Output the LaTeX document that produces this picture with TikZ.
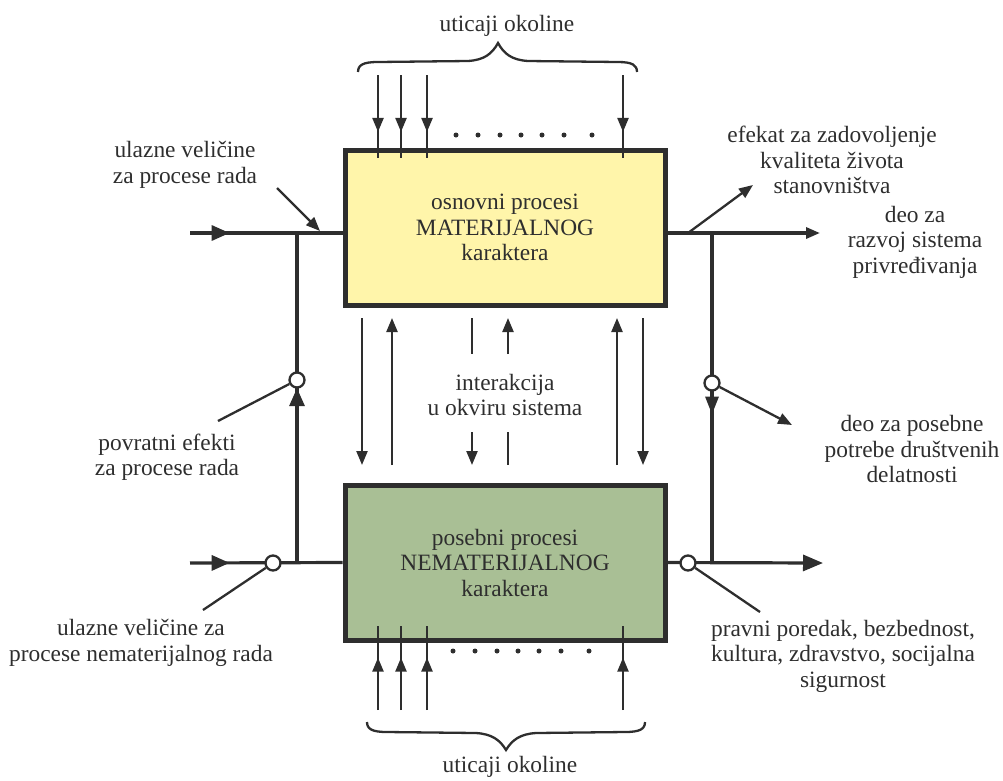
\documentclass[tikz,border=0pt]{standalone}
\usepackage{fontspec}
\setmainfont{Liberation Serif}
\usetikzlibrary{arrows.meta,decorations.markings,calc}
\definecolor{ink}{HTML}{2E2E2E}
\definecolor{matfill}{HTML}{FFF5AA}
\definecolor{nematfill}{HTML}{A9BF95}
\tikzset{
  proc/.style={draw=ink, line width=5pt, minimum width=320pt, minimum height=155pt,
    align=center, inner sep=0pt},
  wire/.style={draw=ink, line width=3.2pt},
  thinwire/.style={draw=ink, line width=2.3pt},
  joint/.style={circle, draw=ink, fill=white, line width=2.3pt, minimum size=15pt, inner sep=0pt},
  lbl/.style={align=center, inner sep=0pt},
  midtip/.style n args={3}{postaction={decorate},
    decoration={markings, mark=at position #1 with {\arrow{Triangle[length=#2,width=#3]}}}},
  smallhead/.style={-{Triangle[length=14pt,width=11pt]}},
  bighead/.style={-{Triangle[length=20pt,width=16pt]}},
}
\begin{document}
\begin{tikzpicture}[x=1pt, y=-1pt, font=\fontsize{23.4}{25.5}\selectfont, text=ink]
\useasboundingbox (0,0) rectangle (1003,780);

% the two process blocks
\node[proc, fill=matfill] (m) at (505,227.5) {osnovni procesi\\MATERIJALNOG\\karaktera};
\node[proc, fill=nematfill] (n) at (505,562.5) {posebni procesi\\NEMATERIJALNOG\\karaktera};

% environmental influences from above
\foreach \x [count=\i] in {378,401,427,623} {
  \coordinate (ti\i) at (\x,75);
  \draw[thinwire, midtip={0.69}{14pt}{11pt}] (ti\i) -- ($(ti\i |- m.north)+(0,10)$);
}
\foreach \x in {456,478,500,521,542,564,592} \fill[ink] (\x,135) circle (2.5pt);
\draw[thinwire] (358,72) .. controls (358,65) and (363,62) .. (378,62) -- (468,61)
  .. controls (484,60) and (492,54) .. (498,43)
  .. controls (504,54) and (512,60) .. (528,61) -- (618,62)
  .. controls (632,62) and (637,65) .. (637,72);
\node[lbl] (envtop) at (507,26) {uticaji okoline};

% environmental influences from below
\foreach \x [count=\i] in {378,401,427,623} {
  \coordinate (bi\i) at (\x,710);
  \draw[thinwire, midtip={0.62}{14pt}{11pt}] (bi\i) -- ($(bi\i |- n.south)+(0,-17)$);
}
\foreach \x in {453,475,497,518,539,561,589} \fill[ink] (\x,651) circle (2.5pt);
\draw[thinwire] (367,722) .. controls (367,729) and (372,732) .. (387,732) -- (476,733)
  .. controls (492,734) and (500,740) .. (506,750)
  .. controls (512,740) and (520,734) .. (536,733) -- (625,732)
  .. controls (640,732) and (645,729) .. (645,722);
\node[lbl] (envbot) at (510,767) {uticaji okoline};

% interaction between the blocks
\coordinate (ia1) at (362,318); \coordinate (ib1) at (362,465);
\coordinate (ia2) at (392,465); \coordinate (ib2) at (392,318);
\coordinate (ia3) at (472,318); \coordinate (ib3) at (472,354);
\coordinate (ia4) at (472,432); \coordinate (ib4) at (472,465);
\coordinate (ia5) at (508,354); \coordinate (ib5) at (508,318);
\coordinate (ia6) at (508,432); \coordinate (ib6) at (508,465);
\coordinate (ia7) at (617,465); \coordinate (ib7) at (617,318);
\coordinate (ia8) at (643,318); \coordinate (ib8) at (643,465);
\draw[thinwire, smallhead] (ia1) -- (ib1);
\draw[thinwire, smallhead] (ia2) -- (ib2);
\draw[thinwire] (ia3) -- (ib3);
\draw[thinwire, smallhead] (ia4) -- (ib4);
\draw[thinwire, smallhead] (ia5) -- (ib5);
\draw[thinwire] (ia6) -- (ib6);
\draw[thinwire, smallhead] (ia7) -- (ib7);
\draw[thinwire, smallhead] (ia8) -- (ib8);
\node[lbl] (inter) at (505,395) {interakcija\\u okviru sistema};

% left side: inputs and feedback
\coordinate (inA) at (190,233);
\coordinate (inB) at (190,563);
\coordinate (jL1) at (297,233);
\coordinate (jL2) at (297,563);
\draw[wire, midtip={0.26}{18pt}{15pt}] (inA) -- (inA -| m.west);
\draw[wire, midtip={0.26}{18pt}{15pt}] (inB) -- (n.west);
\draw[wire, midtip={0.53}{18pt}{15pt}] (jL2) -- (jL1);
\node[joint] (cL1) at (297,380) {};
\node[joint] (cL2) at (273,563) {};

% right side: outputs
\coordinate (jR1) at (712,233);
\coordinate (jR2) at (712,563);
\coordinate (outA) at (820,233);
\coordinate (outB) at (823,563);
\coordinate (dA) at (688,233);
\coordinate (dB) at (753,185);
\draw[wire, smallhead] (outA -| m.east) -- (outA);
\draw[wire, bighead] (n.east) -- (outB);
\draw[wire, midtip={0.55}{18pt}{13pt}] (jR1) -- (jR2);
\draw[thinwire, smallhead] (dA) -- (dB);
\node[joint] (cR1) at (712,383) {};
\node[joint] (cR2) at (688,563) {};

% labels and their pointers
\node[lbl] (lin1) at (185,165) {ulazne veličine\\za procese rada};
\node[lbl] (lfb) at (167,457) {povratni efekti\\za procese rada};
\node[lbl] (lin2) at (141,643) {ulazne veličine za\\procese nematerijalnog rada};
\node[lbl] (rq) at (832,160) {efekat za zadovoljenje\\kvaliteta života\\stanovništva};
\node[lbl] (rdev) at (915,242) {deo za\\razvoj sistema\\privređivanja};
\node[lbl] (rsoc) at (912,449) {deo za posebne\\potrebe društvenih\\delatnosti};
\node[lbl] (rlaw) at (843,656) {pravni poredak, bezbednost,\\kultura, zdravstvo, socijalna\\sigurnost};

\coordinate (p1a) at (277,188); \coordinate (p1b) at (320,231);
\coordinate (p2) at (218,421);
\coordinate (p3) at (203,610);
\coordinate (p4) at (792,425);
\coordinate (p5) at (760,612);
\draw[thinwire, smallhead] (p1a) -- (p1b);
\draw[thinwire] (cL1) -- (p2);
\draw[thinwire] (cL2) -- (p3);
\draw[thinwire, smallhead] (cR1) -- (p4);
\draw[thinwire] (cR2) -- (p5);
\end{tikzpicture}
\end{document}
